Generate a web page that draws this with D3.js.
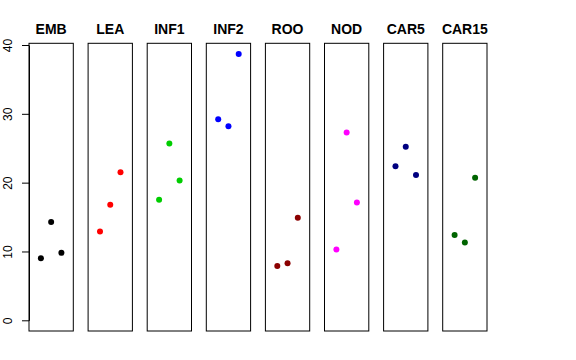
<!DOCTYPE html>
<html><head><meta charset="utf-8">
<script src="https://cdn.jsdelivr.net/npm/d3@7"></script>
<style>body{margin:0;background:#fff}svg{display:block}</style>
</head><body>
<script>
const categories = ["EMB","LEA","INF1","INF2","ROO","NOD","CAR5","CAR15"];
const colors = ["#000000","#FF0000","#00CD00","#0000FF","#8B0000","#FF00FF","#000080","#006400"];
const seriesValues = [
  [9.0, 14.3, 9.8],
  [12.9, 16.8, 21.5],
  [17.5, 25.7, 20.3],
  [29.2, 28.2, 38.7],
  [7.9, 8.3, 14.9],
  [10.3, 27.3, 17.1],
  [22.4, 25.2, 21.1],
  [12.4, 11.3, 20.7]
];
const yTicks = [0, 10, 20, 30, 40];
const W = 576, H = 360;
const svg = d3.select("body").append("svg").attr("width", W).attr("height", H);
const panelLeft = 29, panelPitch = 59.1, panelW = 44.3, panelTop = 43.3, panelBottom = 331;
const y = d3.scaleLinear().domain([0, 40]).range([320.3, 45]);
const x = d3.scaleLinear().domain([-0.16, 4.16]).range([0, panelW]);

categories.forEach((c, i) => {
  const g = svg.append("g").attr("transform", `translate(${panelLeft + i * panelPitch},0)`);
  g.append("rect").attr("x", 0).attr("y", panelTop).attr("width", panelW).attr("height", panelBottom - panelTop)
    .attr("fill", "none").attr("stroke", "#000").attr("stroke-width", 1);
  g.append("text").attr("x", panelW / 2).attr("y", 34).attr("text-anchor", "middle")
    .attr("font-family", "Liberation Sans, Arial, sans-serif").attr("font-weight", "bold")
    .attr("font-size", 14).text(c);
  g.selectAll("circle").data(seriesValues[i]).enter().append("circle")
    .attr("cx", (d, j) => x(j + 1)).attr("cy", d => y(d)).attr("r", 3)
    .attr("fill", colors[i]);
});

const axis = d3.axisLeft(y).tickValues(yTicks).tickSize(7).tickSizeOuter(0);
const ag = svg.append("g").attr("transform", `translate(${panelLeft},0)`).call(axis);
ag.select(".domain").attr("stroke", "#000");
ag.selectAll(".tick line").attr("stroke", "#000");
ag.selectAll(".tick text")
  .attr("font-family", "Liberation Sans, Arial, sans-serif").attr("font-size", 12)
  .attr("fill", "#000")
  .attr("transform", "rotate(-90)")
  .attr("x", 0).attr("y", -21).attr("dy", "0.35em")
  .attr("text-anchor", "middle");
</script>
</body></html>
